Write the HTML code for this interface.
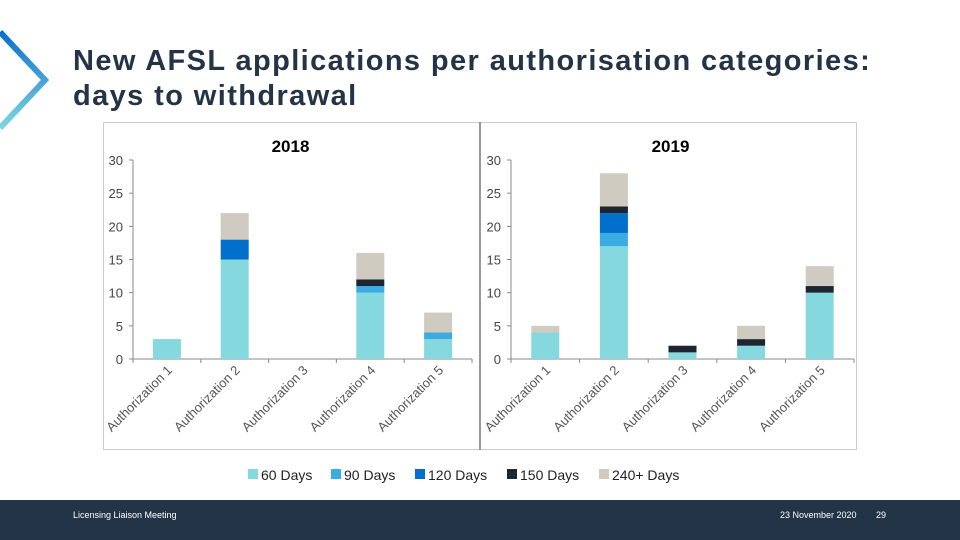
<!DOCTYPE html>
<html><head><meta charset="utf-8"><style>
body{margin:0;width:960px;height:540px;overflow:hidden;background:#fff;font-family:"Liberation Sans",sans-serif;position:relative}
#title{position:absolute;left:73px;top:44px;font-size:29px;line-height:35px;color:#243447;margin:0;font-weight:bold;letter-spacing:1.4px}
#footer{position:absolute;left:0;top:500px;width:960px;height:40px;background:#243447;color:#fff;font-size:9px}
</style></head><body>
<svg width="60" height="140" style="position:absolute;left:0;top:20px">
<defs><linearGradient id="g" x1="0" y1="0" x2="0" y2="1"><stop offset="0" stop-color="#0a6fcc"/><stop offset="1" stop-color="#7fd6df"/></linearGradient></defs>
<polyline points="0,12 45,60 0,108" fill="none" stroke="url(#g)" stroke-width="6"/>
</svg>
<h1 id="title">New AFSL applications per authorisation categories:<br>days to withdrawal</h1>
<svg id="chart" width="960" height="500" style="position:absolute;left:0;top:0"></svg>
<div id="footer">
<span style="position:absolute;left:73px;top:10px">Licensing Liaison Meeting</span>
<span style="position:absolute;left:780px;top:10px">23 November 2020</span>
<span style="position:absolute;left:876px;top:10px">29</span>
</div>
<script>
const categories=["Authorization 1","Authorization 2","Authorization 3","Authorization 4","Authorization 5"];
const seriesNames=["60 Days","90 Days","120 Days","150 Days","240+ Days"];
const colors=["#84d8de","#3aabe3","#0070cc","#1c2530","#d0cbc0"];
const yTicks=[0,5,10,15,20,25,30];
const d2018_60=[3,15,0,10,3];
const d2018_90=[0,0,0,1,1];
const d2018_120=[0,3,0,0,0];
const d2018_150=[0,0,0,1,0];
const d2018_240=[0,4,0,4,3];
const d2019_60=[4,17,1,2,10];
const d2019_90=[0,2,0,0,0];
const d2019_120=[0,3,0,0,0];
const d2019_150=[0,1,1,1,1];
const d2019_240=[1,5,0,2,3];
const NS="http://www.w3.org/2000/svg";
const svg=document.getElementById('chart');
function mk(t,a,p){const e=document.createElementNS(NS,t);for(const k in a)e.setAttribute(k,a[k]);(p||svg).appendChild(e);return e;}
let fr=mk('rect',{x:103.5,y:122.5,width:753,height:327,fill:'#fff',stroke:'#ccc'});


let dv=mk('line',{x1:480,y1:122,x2:480,y2:450,stroke:'#999','stroke-width':2});


function panel(year,x0,x1,data){
  const y0=359,y1=160,max=30;
  const ys=v=>y0-(v/max)*(y0-y1);
  const step=(x1-x0)/categories.length;
  const xs=i=>x0+step*(i+0.5);
  const g=mk('g',{});
  
  
  const t=mk('text',{x:(x0+x1)/2-12,y:152,'text-anchor':'middle','font-size':17,'font-weight':'bold',fill:'#000'},g);
  t.textContent=year;
  
  
  mk('line',{x1:x0,y1:y1,x2:x0,y2:y0,stroke:'#888'},g);
  mk('line',{x1:x0,y1:y0,x2:x1,y2:y0,stroke:'#888'},g);
  yTicks.forEach(v=>{
    mk('line',{x1:x0-4,y1:ys(v),x2:x0,y2:ys(v),stroke:'#888'},g);
    const l=mk('text',{x:x0-10,y:ys(v)+5,'text-anchor':'end','font-size':13,fill:'#444'},g);
    l.textContent=v;
    
    
  });
  for(let i=0;i<=categories.length;i++)mk('line',{x1:x0+step*i,y1:y0,x2:x0+step*i,y2:y0+4,stroke:'#888'},g);
  categories.forEach((c,i)=>{
    const cx=xs(i);
    const l=mk('text',{x:cx+6,y:y0+12,'text-anchor':'end','font-size':13,fill:'#555',transform:`rotate(-45 ${cx+6} ${y0+12})`},g);
    l.textContent=c;
    
    
    let acc=0;
    data.forEach((s,k)=>{
      const v=s[i]; if(!v)return;
      const r=mk('rect',{x:cx-14,y:ys(acc+v),width:28,height:ys(acc)-ys(acc+v),fill:colors[k]},g);
      
      
      acc+=v;
    });
  });
}
panel('2018',133,472,[d2018_60,d2018_90,d2018_120,d2018_150,d2018_240]);
panel('2019',511,854,[d2019_60,d2019_90,d2019_120,d2019_150,d2019_240]);
const lx=[248,331,415,507,599];
seriesNames.forEach((n,k)=>{
  const g=mk('g',{});
  
  
  mk('rect',{x:lx[k],y:469,width:10,height:10,fill:colors[k]},g);
  const t=mk('text',{x:lx[k]+13,y:480,'font-size':14,fill:'#222'},g);
  t.textContent=n;
});
</script>
</body></html>
